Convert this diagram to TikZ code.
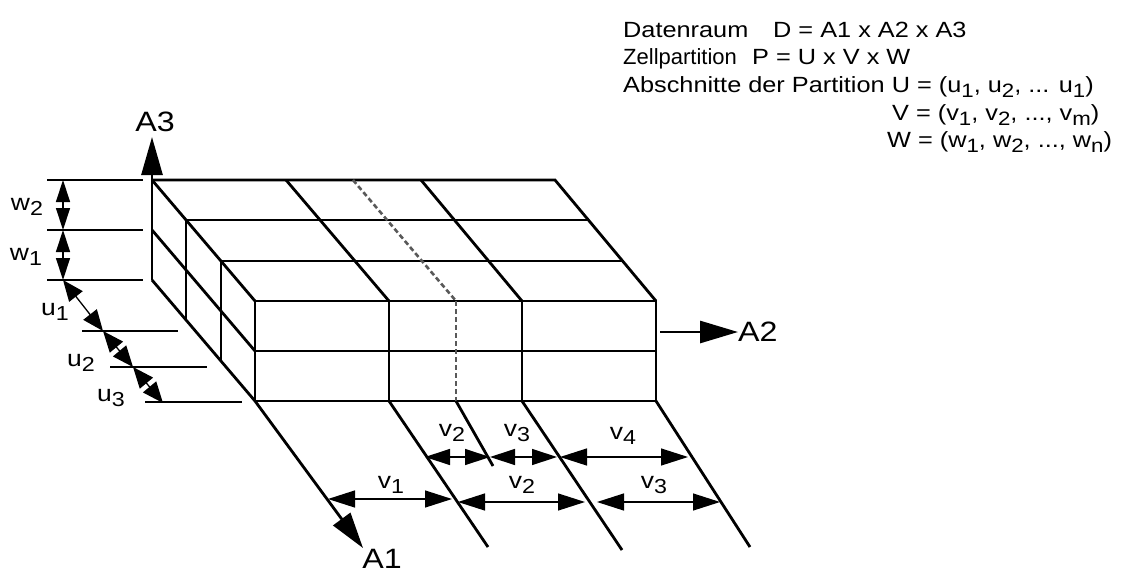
\documentclass[tikz,border=0pt]{standalone}
\usepackage{fontspec}
\setmainfont{Liberation Sans}
\usepackage{graphicx}
\usetikzlibrary{arrows.meta}
\newcommand\lo[1]{\raisebox{-0.25em}{\scalebox{0.88}{#1}}}
\newcommand\hs[1]{\scalebox{1.15}[1]{#1}}
\begin{document}
\begin{tikzpicture}[x=1pt,y=-1pt,
  edge/.style={line width=2.8pt},
  tick/.style={line width=2.8pt},
  cut/.style={line width=2.6pt, dash pattern=on 5pt off 3pt, black!65},
  dimline/.style={line width=1.3pt, {Triangle[length=27pt,width=17pt]}-{Triangle[length=27pt,width=17pt]}},
  sdim/.style={line width=1.3pt, {Triangle[length=22pt,width=14pt]}-{Triangle[length=22pt,width=14pt]}},
  udim/.style={line width=1.3pt, {Triangle[length=21pt,width=17pt]}-{Triangle[length=21pt,width=17pt]}},
  axis/.style={line width=2.8pt, -{Triangle[length=38pt,width=21pt]}},
  lab/.style={inner sep=0pt, font=\fontsize{23}{25}\selectfont},
  axlab/.style={inner sep=0pt, font=\fontsize{28}{30}\selectfont},
  txt/.style={inner sep=0pt, anchor=base west, font=\fontsize{22}{24}\selectfont}]
\useasboundingbox (0,0) rectangle (1136,574);

% back corners
\coordinate (B0) at (152,180);
\coordinate (B1) at (152,230);
\coordinate (B2) at (152,280);
\coordinate (Bv1) at (286,180);
\coordinate (Bv2) at (353,180);
\coordinate (Bv3) at (421,180);
\coordinate (Bv4) at (555,180);
% front face
\coordinate (F0) at (255,301);
\coordinate (F1) at (255,351);
\coordinate (F2) at (255,401);
\coordinate (Fv1) at (389,301);
\coordinate (Fv2) at (456,301);
\coordinate (Fv3) at (522,301);
\coordinate (Fv4) at (656,301);
\coordinate (Gv1) at (389,401);
\coordinate (Gv2) at (456,401);
\coordinate (Gv3) at (522,401);
\coordinate (Gv4) at (656,401);
% intermediate depth layers
\coordinate (L1a) at (186,220);
\coordinate (L1b) at (186,320);
\coordinate (L1r) at (589,220);
\coordinate (L2a) at (221,261);
\coordinate (L2b) at (221,361);
\coordinate (L2r) at (622,261);

% top face
\draw[edge] (B0) -- (Bv4) -- (Fv4);
\draw[edge] (L1a) -- (L1r);
\draw[edge] (L2a) -- (L2r);
\draw[edge] (Bv1) -- (Fv1);
\draw[edge] (Bv3) -- (Fv3);
\draw[cut] (Bv2) -- (Fv2);
% left face
\draw[edge] (B0) -- (B2);
\draw[edge] (B0) -- (F0);
\draw[edge] (B1) -- (F1);
\draw[edge] (B2) -- (F2);
\draw[edge] (L1a) -- (L1b);
\draw[edge] (L2a) -- (L2b);
% front face
\draw[edge] (F0) -- (Fv4) -- (Gv4) -- (F2) -- cycle;
\draw[edge] (F1) -- (656,351);
\draw[edge] (Fv1) -- (Gv1);
\draw[edge] (Fv3) -- (Gv3);
\draw[cut] (Fv2) -- (Gv2);

% lines below
\coordinate (E1) at (488,547);
\coordinate (E2) at (493,466);
\coordinate (E3) at (622,550);
\coordinate (E4) at (750,547);
\draw[edge] (Gv1) -- (E1);
\draw[edge] (Gv2) -- (E2);
\draw[edge] (Gv3) -- (E3);
\draw[edge] (Gv4) -- (E4);

% axes
\coordinate (A3tip) at (152,137);
\coordinate (A2s) at (660,332);
\coordinate (A2tip) at (738,332);
\coordinate (A1tip) at (363,548);
\draw[axis] (B0) -- (A3tip);
\draw[axis,-{Triangle[length=38pt,width=22pt]}] (A2s) -- (A2tip);
\draw[axis,-{Triangle[length=36pt,width=21pt]}] (F2) -- (A1tip);
\node[axlab] (lA3) at (155,122) {\hs{A3}};
\node[axlab,anchor=west] (lA2) at (738,332) {\hs{A2}};
\node[axlab] (lA1) at (382,559) {\hs{A1}};

% left ticks
\coordinate (t1a) at (47,180);  \coordinate (t1b) at (143,180);
\coordinate (t2a) at (47,230);  \coordinate (t2b) at (143,230);
\coordinate (t3a) at (47,280);  \coordinate (t3b) at (143,280);
\coordinate (t4a) at (82,331);  \coordinate (t4b) at (178,331);
\coordinate (t5a) at (110,367); \coordinate (t5b) at (207,367);
\coordinate (t6a) at (145,402); \coordinate (t6b) at (242,402);
\foreach \i in {1,...,6} {\draw[tick] (t\i a) -- (t\i b);}

% w dims
\coordinate (w0) at (63,180);
\coordinate (w1) at (63,230);
\coordinate (w2) at (63,280);
\draw[sdim] (w0) -- (w1);
\draw[sdim] (w1) -- (w2);
\node[lab] (lw2) at (27,207) {\hs{w\lo{2}}};
\node[lab] (lw1) at (26,257) {\hs{w\lo{1}}};

% u dims
\coordinate (u1) at (103,331);
\coordinate (u2) at (133,367);
\coordinate (u3) at (163,403);
\draw[udim] (w2) -- (u1);
\draw[udim] (u1) -- (u2);
\draw[udim] (u2) -- (u3);
\node[lab] (lu1) at (55,312) {\hs{u\lo{1}}};
\node[lab] (lu2) at (81,363) {\hs{u\lo{2}}};
\node[lab] (lu3) at (111,398) {\hs{u\lo{3}}};

% v dims
\coordinate (p1) at (425,457); \coordinate (p2) at (490,457);
\coordinate (p3) at (557,457); \coordinate (p4) at (560,457);
\coordinate (p5) at (688,457);
\draw[dimline,{Triangle[length=25pt,width=16pt]}-{Triangle[length=25pt,width=16pt]}] (p1) -- (p2);
\draw[dimline,{Triangle[length=25pt,width=16pt]}-{Triangle[length=25pt,width=16pt]}] (p2) -- (p3);
\draw[dimline] (p4) -- (p5);
\node[lab] (lv2a) at (452,433) {\hs{v\lo{2}}};
\node[lab] (lv3a) at (517,433) {\hs{v\lo{3}}};
\node[lab] (lv4) at (623,436) {\hs{v\lo{4}}};

\coordinate (q1) at (328,499); \coordinate (q2) at (452,499);
\coordinate (q3) at (458,502); \coordinate (q4) at (585,502);
\coordinate (q5) at (597,502); \coordinate (q6) at (720,502);
\draw[dimline] (q1) -- (q2);
\draw[dimline] (q3) -- (q4);
\draw[dimline] (q5) -- (q6);
\node[lab] (lv1) at (391,485) {\hs{v\lo{1}}};
\node[lab] (lv2b) at (522,485) {\hs{v\lo{2}}};
\node[lab] (lv3b) at (654,485) {\hs{v\lo{3}}};

% text block
\node[txt] (d1) at (623,37) {\hs{Datenraum}};
\node[txt] (d2) at (773,37) {\hs{D = A1 x A2 x A3}};
\node[txt] (z1) at (623,64) {Zellpartition};
\node[txt] (z2) at (752,64) {\hs{P = U x V x W}};
\node[txt] (a1) at (623,92) {\hs{Abschnitte der Partition U = (u\lo{1}, u\lo{2}, ... u\lo{1})}};
\node[txt] (a2) at (892,120) {\hs{V = (v\lo{1}, v\lo{2}, ..., v\lo{m})}};
\node[txt] (a3) at (887,147) {\hs{W = (w\lo{1}, w\lo{2}, ..., w\lo{n})}};
\end{tikzpicture}
\end{document}
